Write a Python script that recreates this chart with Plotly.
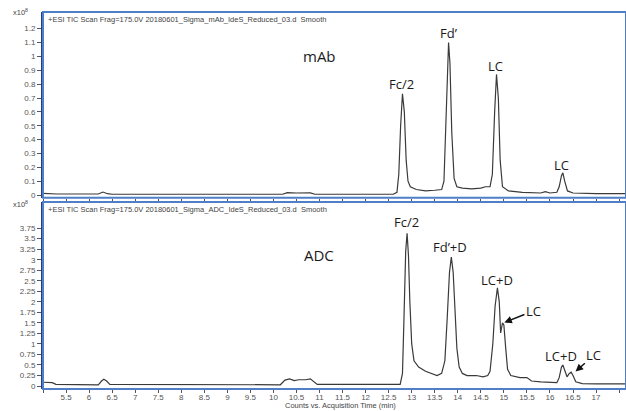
import plotly.graph_objects as go
from plotly.subplots import make_subplots

# ---- data (time in min, counts x10^8) ----
mab_time = [5.0, 5.3, 6.2, 6.3, 6.4, 6.5, 10.2, 10.3, 10.5, 10.8, 10.9, 12.6, 12.68, 12.72, 12.76,
            12.8, 12.84, 12.88, 12.92, 12.97, 13.1, 13.3, 13.5, 13.65, 13.7, 13.74, 13.78, 13.8,
            13.83, 13.87, 13.92, 13.98, 14.1, 14.3, 14.5, 14.6, 14.7, 14.75, 14.8, 14.84, 14.88,
            14.92, 14.97, 15.1, 15.4, 15.8, 15.9, 16.0, 16.15, 16.2, 16.25, 16.28, 16.32, 16.38,
            16.5, 17.0, 17.65]
mab_counts = [0.012, 0.008, 0.008, 0.022, 0.01, 0.006, 0.006, 0.018, 0.015, 0.016, 0.006, 0.006,
              0.02, 0.15, 0.5, 0.73, 0.6, 0.25, 0.1, 0.06, 0.04, 0.03, 0.035, 0.04, 0.1, 0.5, 1.0,
              1.1, 0.95, 0.45, 0.12, 0.06, 0.05, 0.045, 0.05, 0.06, 0.06, 0.15, 0.6, 0.87, 0.7,
              0.25, 0.06, 0.03, 0.02, 0.015, 0.025, 0.015, 0.02, 0.06, 0.14, 0.16, 0.1, 0.03,
              0.015, 0.01, 0.01]

adc_time = [5.0, 5.2, 5.28, 6.2, 6.27, 6.32, 6.38, 6.45, 10.15, 10.25, 10.35, 10.45, 10.55, 10.7,
            10.8, 10.88, 10.95, 12.75, 12.8, 12.83, 12.87, 12.9, 12.93, 12.96, 13.0, 13.05, 13.15,
            13.3, 13.45, 13.55, 13.65, 13.72, 13.77, 13.82, 13.86, 13.9, 13.94, 13.98, 14.03, 14.1,
            14.2, 14.4, 14.55, 14.65, 14.7, 14.76, 14.81, 14.86, 14.9, 14.93, 14.97, 15.0, 15.04,
            15.08, 15.15, 15.35, 15.5, 15.6, 15.8, 16.0, 16.15, 16.2, 16.25, 16.28, 16.32, 16.37,
            16.42, 16.46, 16.5, 16.56, 16.7, 17.0, 17.65]
adc_counts = [0.09, 0.08, 0.04, 0.03, 0.12, 0.16, 0.12, 0.04, 0.03, 0.14, 0.17, 0.13, 0.15, 0.15,
              0.17, 0.1, 0.04, 0.04, 0.3, 1.5, 3.2, 3.63, 3.1, 2.0, 1.0, 0.6, 0.45, 0.35, 0.3,
              0.25, 0.3, 0.6, 1.6, 2.7, 3.06, 2.7, 1.8, 0.9, 0.45, 0.3, 0.25, 0.25, 0.22, 0.25,
              0.35, 1.0, 1.9, 2.33, 2.0, 1.26, 1.5, 1.45, 0.9, 0.4, 0.25, 0.2, 0.2, 0.12, 0.1,
              0.08, 0.08, 0.2, 0.45, 0.5, 0.38, 0.22, 0.3, 0.33, 0.25, 0.1, 0.06, 0.05, 0.05]

x_ticks = [5.0 + 0.5 * i for i in range(26)]
x_ticklabels = [""] + [("%g" % v) for v in x_ticks[1:]]
top_yticks = [0, 0.1, 0.2, 0.3, 0.4, 0.5, 0.6, 0.7, 0.8, 0.9, 1, 1.1, 1.2]
top_yticklabels = ["0", "0.1", "0.2", "0.3", "0.4", "0.5", "0.6", "0.7", "0.8", "0.9", "1", "1.1", "1.2"]
bot_yticks = [0.25 * i for i in range(16)]
bot_yticklabels = ["%g" % v for v in bot_yticks]

top_title = "+ESI TIC Scan Frag=175.0V 20180601_Sigma_mAb_IdeS_Reduced_03.d  Smooth"
bot_title = "+ESI TIC Scan Frag=175.0V 20180601_Sigma_ADC_IdeS_Reduced_03.d  Smooth"

top_labels = [("Fc/2", 12.78, 0.80), ("Fd\u2019", 13.80, 1.17), ("LC", 14.81, 0.93), ("LC", 16.24, 0.22)]
bot_labels = [("Fc/2", 12.89, 3.90), ("Fd\u2019+D", 13.84, 3.30), ("LC+D", 14.86, 2.52), ("LC+D", 16.24, 0.71)]
bot_arrows = [("LC", 14.99, 1.5, 30, -12), ("LC", 16.54, 0.33, 19, -17)]

fig = make_subplots(rows=2, cols=1, shared_xaxes=False, vertical_spacing=0.011)
fig.update_yaxes(domain=[0.507, 1.0], row=1, col=1)
fig.update_yaxes(domain=[0.0, 0.496], row=2, col=1)

line_style = dict(color="#3a3a3a", width=1.2)
fig.add_trace(go.Scatter(x=mab_time, y=mab_counts, mode="lines", line=line_style,
                         showlegend=False, hoverinfo="skip"), row=1, col=1)
fig.add_trace(go.Scatter(x=adc_time, y=adc_counts, mode="lines", line=line_style,
                         showlegend=False, hoverinfo="skip"), row=2, col=1)

tickfont = dict(family="Liberation Sans, Arial", size=8, color="#555555")
xcommon = dict(range=[5.0, 17.65], tickvals=x_ticks, ticktext=x_ticklabels, ticks="outside",
               ticklen=3, tickcolor="#555555", showgrid=False, zeroline=False, tickfont=tickfont,
               showline=False)
fig.update_xaxes(**xcommon, showticklabels=False, row=1, col=1)
fig.update_xaxes(**xcommon, ticklabelstandoff=-3, row=2, col=1)
ycommon = dict(ticks="outside", ticklen=4, tickcolor="#555555", showgrid=False, zeroline=False,
               tickfont=tickfont, showline=True, linecolor="#1f3d8f", linewidth=2)
fig.update_yaxes(**ycommon, range=[-0.02, 1.32], tickvals=top_yticks, ticktext=top_yticklabels,
                 row=1, col=1)
fig.update_yaxes(**ycommon, range=[-0.07, 4.37], tickvals=bot_yticks, ticktext=bot_yticklabels,
                 row=2, col=1)

border = dict(color="#4f7fc6", width=2)
fig.add_shape(type="rect", xref="x domain", yref="y domain", x0=0, x1=1, y0=0, y1=1, line=border)
fig.add_shape(type="rect", xref="x2 domain", yref="y2 domain", x0=0, x1=1, y0=0, y1=1, line=border)

small = dict(family="Liberation Sans, Arial", size=7.5, color="#444444")
fig.add_annotation(xref="x domain", yref="y domain", x=0.005, y=0.995, text=top_title,
                   showarrow=False, xanchor="left", yanchor="top", font=small)
fig.add_annotation(xref="x2 domain", yref="y2 domain", x=0.005, y=0.995, text=bot_title,
                   showarrow=False, xanchor="left", yanchor="top", font=small)
fig.add_annotation(xref="paper", yref="paper", x=-0.055, y=1.0, text="x10<sup>8</sup>",
                   showarrow=False, xanchor="left", yanchor="middle", font=small)
fig.add_annotation(xref="paper", yref="paper", x=-0.055, y=0.49, text="x10<sup>8</sup>",
                   showarrow=False, xanchor="left", yanchor="middle", font=small)
fig.add_annotation(xref="paper", yref="paper", x=0.51, y=-0.044, text="Counts vs. Acquisition Time (min)",
                   showarrow=False, xanchor="center", yanchor="middle", font=small)

labfont = dict(family="Open Sans, Liberation Sans", size=13, color="#1a1a1a")
bigfont = dict(family="Open Sans, Liberation Sans", size=15, color="#1a1a1a")
fig.add_annotation(x=10.99, y=1.0, xref="x", yref="y", text="mAb", showarrow=False, font=bigfont)
fig.add_annotation(x=10.99, y=3.11, xref="x2", yref="y2", text="ADC", showarrow=False, font=bigfont)
for t, x, y in top_labels:
    fig.add_annotation(x=x, y=y, xref="x", yref="y", text=t, showarrow=False, font=labfont)
for t, x, y in bot_labels:
    fig.add_annotation(x=x, y=y, xref="x2", yref="y2", text=t, showarrow=False, font=labfont)
for t, x, y, ax, ay in bot_arrows:
    fig.add_annotation(x=x, y=y, xref="x2", yref="y2", text=t, showarrow=True, ax=ax, ay=ay,
                       arrowhead=2, arrowsize=1, arrowwidth=1.5, arrowcolor="#111111",
                       font=labfont, standoff=1)

fig.update_layout(width=626, height=411, margin=dict(l=43, r=0, t=12, b=22),
                  plot_bgcolor="white", paper_bgcolor="white")
fig.write_html("out.html", config={"displayModeBar": False},
               post_script="document.body.style.margin='0';document.body.style.overflow='hidden';")
